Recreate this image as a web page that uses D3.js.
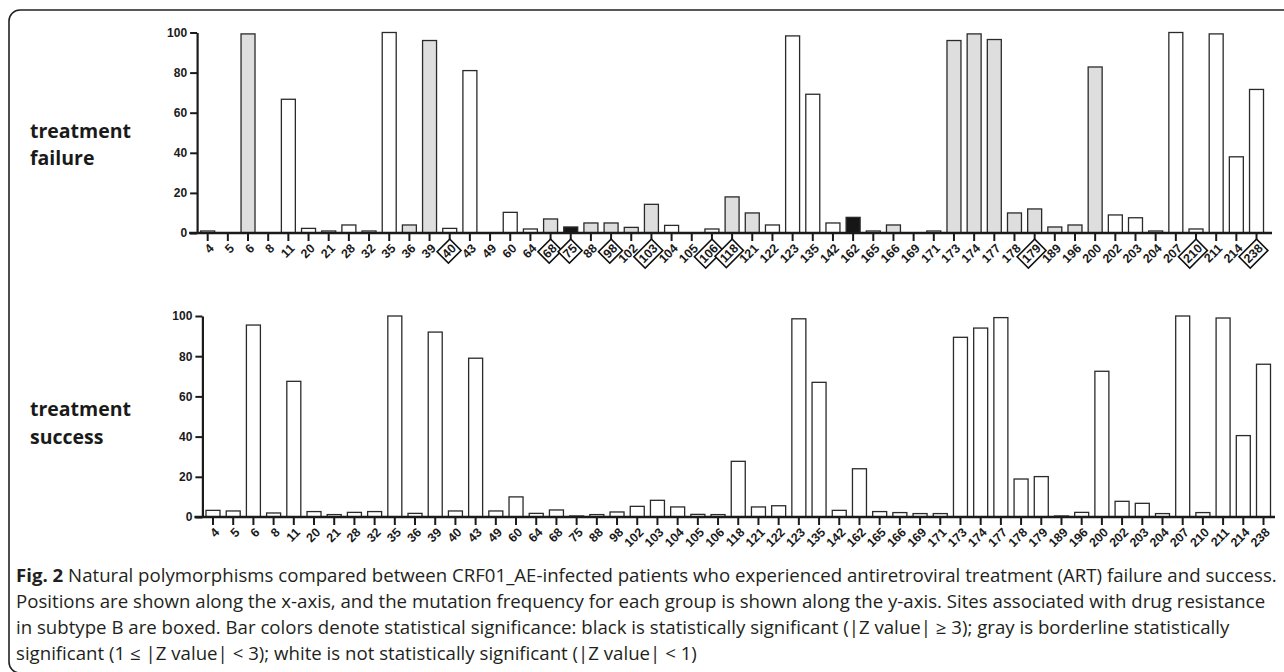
<!DOCTYPE html>
<html><head><meta charset="utf-8">
<script src="https://cdn.jsdelivr.net/npm/d3@7"></script>
<style>
html,body{margin:0;padding:0;background:#fff;}
svg{display:block;}
</style></head>
<body>
<svg id="chart" width="1284" height="672"></svg>
<script>
// ---------- DATA ----------
const sites = ["4","5","6","8","11","20","21","28","32","35","36","39","40","43","49","60","64","68","75","88","98","102","103","104","105","106","118","121","122","123","135","142","162","165","166","169","171","173","174","177","178","179","189","196","200","202","203","204","207","210","211","214","238"];
const failureValues = [1,0,99.3,0,66.7,2.3,1,4,1,100,4,96,2.3,81,0,10.3,2,7,3,5,5,2.8,14.3,3.8,0,2,18,10,4,98.3,69.2,5,7.8,1,4,0,1,96,99.3,96.5,10,12,3,4,82.8,9,7.6,1,100,2,99.3,38,71.6];
// significance: b = black (|Z|>=3), g = gray (1<=|Z|<3), w = white (|Z|<1)
const failureSignif = ["w","w","g","w","w","w","w","w","w","w","g","g","w","w","w","w","w","g","b","g","g","g","g","w","w","w","g","g","w","w","w","w","b","w","g","w","w","g","g","g","g","g","g","g","g","w","w","w","w","w","w","w","w"];
const successValues = [3.3,3,95.5,2,67.5,2.7,1.2,2.3,2.7,100,1.8,92,3,79,3,10,1.8,3.5,0.5,1.2,2.5,5.3,8.3,5,1.3,1.2,27.7,5,5.6,98.6,67,3.3,24,2.7,2.2,1.7,1.7,89.4,94,99.2,18.9,20.1,0.5,2.3,72.5,7.8,6.8,1.7,100,2.2,99,40.5,76];
const boxedSites = ["40","68","75","98","103","106","118","179","210","238"];
const yTicks = [0,20,40,60,80,100];
const panelLabels = [["treatment","failure"],["treatment","success"]];
const captionBold = "Fig. 2";
const captionLines = [
  " Natural polymorphisms compared between CRF01_AE-infected patients who experienced antiretroviral treatment (ART) failure and success.",
  "Positions are shown along the x-axis, and the mutation frequency for each group is shown along the y-axis. Sites associated with drug resistance",
  "in subtype B are boxed. Bar colors denote statistical significance: black is statistically significant (|Z value| \u2265 3); gray is borderline statistically",
  "significant (1 \u2264 |Z value| < 3); white is not statistically significant (|Z value| < 1)"
];

// ---------- DRAW ----------
const svg = d3.select("#chart");
const fillFor = {b:"#161616", g:"#dedede", w:"#ffffff"};

// outer rounded frame
svg.append("rect").attr("x",9).attr("y",10).attr("width",1400).attr("height",663)
  .attr("rx",11).attr("ry",11).attr("fill","none").attr("stroke","#222").attr("stroke-width",1.6);

const panels = [
  {values: failureValues, signif: failureSignif, x0:197.6, x1:1266.6, axisEnd:1272, yBase:233, yTop:32.5, boxed:true, labelY:[138,165]},
  {values: successValues, signif: null, x0:202.9, x1:1273.6, axisEnd:1275, yBase:517, yTop:316, boxed:false, labelY:[416,444]}
];

panels.forEach((p, pi) => {
  const g = svg.append("g");
  const x = d3.scaleBand().domain(sites).range([p.x0, p.x1]).paddingInner(0.307).paddingOuter(0.1535);
  const y = d3.scaleLinear().domain([0,100]).range([p.yBase, p.yTop]);
  const yAxisX = p.x0 - 0.5;

  // bars
  g.selectAll("rect.bar").data(sites.map((s,i)=>({s, v:p.values[i], c: p.signif ? p.signif[i] : "w"})))
    .join("rect").attr("class","bar")
    .attr("x", d => x(d.s))
    .attr("y", d => y(d.v))
    .attr("width", x.bandwidth())
    .attr("height", d => y(0) - y(d.v))
    .attr("fill", d => fillFor[d.c])
    .attr("stroke", "#2a2a2a").attr("stroke-width", 1.3)
    .attr("display", d => d.v > 0 ? null : "none");

  // y axis
  const ya = g.append("g").attr("transform", `translate(${yAxisX},0)`)
    .call(d3.axisLeft(y).tickValues(yTicks).tickSize(7).tickSizeOuter(0).tickPadding(3));
  ya.select(".domain").attr("stroke","#1a1a1a").attr("stroke-width",2.2);
  ya.selectAll(".tick line").attr("stroke","#1a1a1a").attr("stroke-width",2);
  ya.selectAll(".tick text").attr("font-family","'Liberation Sans', Arial, sans-serif")
    .attr("font-weight","bold").attr("font-size",12).attr("fill","#1a1a1a");

  // x axis
  const xa = g.append("g").attr("transform", `translate(0,${p.yBase})`)
    .call(d3.axisBottom(x).tickSize(8).tickSizeOuter(0).tickFormat(""));
  xa.select(".domain").remove();
  xa.selectAll(".tick line").attr("stroke","#1a1a1a").attr("stroke-width",2);
  g.append("line").attr("x1", yAxisX - 8).attr("x2", p.axisEnd)
    .attr("y1", p.yBase).attr("y2", p.yBase)
    .attr("stroke","#1a1a1a").attr("stroke-width",2.4);

  // rotated labels
  const lab = g.selectAll("g.xl").data(sites).join("g").attr("class","xl")
    .attr("transform", d => `translate(${x(d) + x.bandwidth()/2 + 4},${p.yBase + 13}) rotate(-45)`);
  lab.append("text").text(d => d)
    .attr("text-anchor","end").attr("dy","0.35em")
    .attr("font-family","'Liberation Sans', Arial, sans-serif")
    .attr("font-weight","bold").attr("font-size",12.5).attr("fill","#1a1a1a");
  if (p.boxed) {
    lab.filter(d => boxedSites.includes(d)).each(function(){
      const t = d3.select(this).select("text");
      const bb = t.node().getBBox();
      d3.select(this).insert("rect","text")
        .attr("x", bb.x - 2).attr("y", bb.y - 1)
        .attr("width", bb.width + 4).attr("height", bb.height + 2)
        .attr("fill","#fff").attr("stroke","#111").attr("stroke-width",1.6);
    });
  }

  // panel label
  const pl = g.append("text").attr("font-family","'Open Sans', 'Noto Sans', sans-serif")
    .attr("font-weight","bold").attr("font-size",19.5).attr("fill","#1a1a1a");
  panelLabels[pi].forEach((t, k) => pl.append("tspan").attr("x",30).attr("y",p.labelY[k]).text(t));
});

// caption
const capX = 16;
const capG = svg.append("g");
const baselines = [582, 608, 634, 660];
const line1End = 1277;
const capText = capG.selectAll("text.cap").data(captionLines).join("text").attr("class","cap")
  .attr("x", capX).attr("y", (d,i) => baselines[i])
  .attr("font-family","'Open Sans', 'Noto Sans', sans-serif")
  .attr("font-size",17.5).attr("fill","#231f20");
capText.each(function(d, i){
  const t = d3.select(this);
  if (i === 0) t.append("tspan").attr("font-weight","bold").text(captionBold);
  t.append("tspan").text(d);
});
// horizontal compression factor from first line (condensed caption face)
const n0 = capText.nodes()[0].getComputedTextLength();
const sx = (line1End - capX) / n0;
capText.attr("transform", `translate(${capX},0) scale(${sx},1) translate(${-capX},0)`);
</script>
</body></html>
